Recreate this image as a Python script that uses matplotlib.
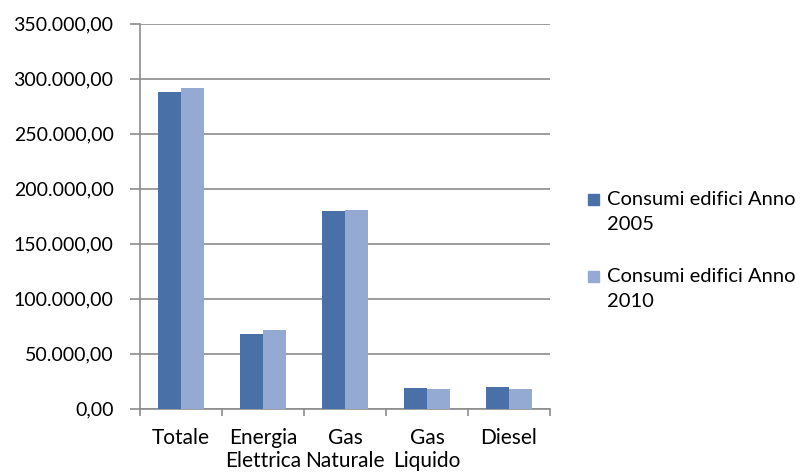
import numpy as np
import matplotlib
matplotlib.use("Agg")
import matplotlib.pyplot as plt
from matplotlib.ticker import MultipleLocator, FuncFormatter, FixedLocator
from matplotlib.patches import Rectangle

# consumption of buildings by energy source
categories = ["Totale", "Energia\nElettrica", "Gas\nNaturale", "Gas\nLiquido", "Diesel"]
consumi_2005 = [287500, 68000, 179500, 18800, 20000]
consumi_2010 = [291000, 71500, 180500, 17300, 17300]
series_labels = ["Consumi edifici Anno\n2005", "Consumi edifici Anno\n2010"]

color_2005 = "#4A70A8"
color_2010 = "#95AAD3"
grid_color = "#8C8C8C"

plt.rcParams['font.family'] = ['Lato', 'DejaVu Sans']

W, H = 808, 474


def it_format(v, pos):
    # Italian number style: 350.000,00
    s = f"{v:,.2f}"
    return s.replace(",", "X").replace(".", ",").replace("X", ".")


fig = plt.figure(figsize=(W / 100, H / 100), dpi=100)
ax = fig.add_axes([140 / W, 1 - 408.5 / H, 410 / W, 385 / H])

x = np.arange(len(categories)) + 0.5
w = 0.28
ax.bar(x - w / 2, consumi_2005, width=w, color=color_2005, zorder=3)
ax.bar(x + w / 2, consumi_2010, width=w, color=color_2010, zorder=3)

ax.set_xlim(0, len(categories))
ax.set_ylim(0, 350000)
ax.yaxis.set_major_locator(MultipleLocator(50000))
ax.yaxis.set_major_formatter(FuncFormatter(it_format))
ax.grid(axis='y', color=grid_color, linewidth=1.2, zorder=0)

ax.set_xticks(x)
ax.set_xticklabels(categories, fontsize=15, linespacing=1.22)
ax.xaxis.set_minor_locator(FixedLocator(np.arange(len(categories) + 1)))
ax.tick_params(axis='x', which='major', length=0, pad=14)
ax.tick_params(axis='x', which='minor', length=5, color=grid_color, width=1.2)
ax.tick_params(axis='y', length=7, color=grid_color, width=1.2, labelsize=14, pad=12)

for side in ['top', 'right']:
    ax.spines[side].set_visible(False)
for side in ['left', 'bottom']:
    ax.spines[side].set_color(grid_color)
    ax.spines[side].set_linewidth(1.2)

# legend: square swatch beside the first line of each two-line label
legend_tops = [193, 270]
for top, label, color in zip(legend_tops, series_labels, [color_2005, color_2010]):
    fig.patches.append(Rectangle((588 / W, 1 - (top + 12) / H), 11 / W, 11 / H,
                                 transform=fig.transFigure, color=color))
    fig.text(607 / W, 1 - (top - 2) / H, label, fontsize=14.5, va='top', ha='left',
             linespacing=1.55)

fig.savefig("out.png", dpi=100)
